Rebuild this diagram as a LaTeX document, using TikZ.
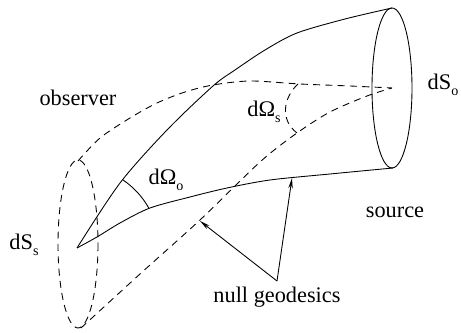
\documentclass[tikz,border=0pt]{standalone}
\usepackage{fontspec}
\setmainfont{Liberation Serif}
\usetikzlibrary{arrows.meta}

\newcommand{\lowidx}[1]{\raisebox{-0.55ex}{\footnotesize #1}}

\begin{document}
\begin{tikzpicture}[x=0.02cm,y=-0.02cm]
        \tikzstyle{every node}=[font=\fontsize{12.7}{15}\selectfont]
        \tikzstyle{wall}=[line width=0.5pt]
        \tikzstyle{ray}=[line width=0.5pt,dash pattern=on 4pt off 3pt]
        \tikzstyle{pointer}=[line width=0.5pt,-{Stealth[length=6pt,width=2.5pt]}]

        \useasboundingbox (0,0) rectangle (461,333);

        %% ends of the bundle
        \coordinate (apex) at (77,248);
        \coordinate (far) at (392,88);
        \draw[wall] (far) ellipse (20 and 80);
        \draw[ray] (78,244) ellipse (20 and 84);

        %% solid walls
        \draw[wall] plot[smooth] coordinates {(77,248) (120,183) (167,130) (213,86) (235,70) (265,50) (297,33) (345,19) (392,8)};
        \draw[wall] plot[smooth] coordinates {(77,248) (97,237) (120,223) (150,208) (190,197) (227,188) (270,180) (330,174) (393,168)};

        %% dashed rays
        \draw[ray] plot[smooth] coordinates {(78,161) (100,138) (130,118) (157,103) (185,92) (213,85) (250,81) (300,84) (350,86) (392,88)};
        \draw[ray] plot[smooth] coordinates {(81,328) (140,274) (200,220) (260,162) (297,133) (330,112) (367,96) (392,88)};

        %% solid angles
        \draw[wall] (123,180) arc[start angle=-56, end angle=-29, radius=82];
        \draw[ray] (298,84) .. controls (283,98) and (280,120) .. (297,133);

        %% labels
        \node (obs) at (78,98) {observer};
        \node (dSs) at (24,245) {dS\lowidx{s}};
        \node (dSo) at (443,85) {dS\lowidx{o}};
        \node (src) at (395,212) {source};
        \node (dOo) at (166,180) {dΩ\lowidx{o}};
        \node (dOs) at (264,112) {dΩ\lowidx{s}};
        \node[anchor=north] (geo) at (277,281) {null geodesics};

        \coordinate (g1) at (200,221);
        \coordinate (g2) at (292,178);
        \draw[pointer] (geo.north) -- (g1);
        \draw[pointer] (geo.north) -- (g2);

    \end{tikzpicture}
\end{document}
